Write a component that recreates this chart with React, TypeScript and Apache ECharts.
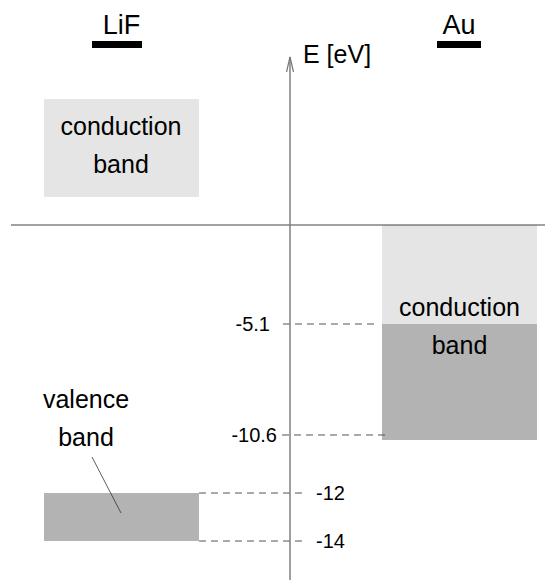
import React, { useEffect, useRef } from "react";
import * as echarts from "echarts";

// ---- data ----
const materials = ["LiF", "Au"];
const energyLabels = ["-5.1", "-10.6", "-12", "-14"];
const energyValues = [-5.1, -10.6, -12, -14];
// schematic (not to scale) heights of each energy level on the diagram; vacuum level = 0
const levelHeights = [-99, -210, -268, -316];
const bandTop = [126, levelHeights[2], 0, levelHeights[0]];
const bandBottom = [28, levelHeights[3], levelHeights[0], -215];
const bandMaterial = [0, 0, 1, 1];
const bandFilled = [false, true, false, true];
const bandLabels = ["conduction\nband", "valence\nband", "conduction\nband"];

// ---- layout / style ----
const FONT = "'Liberation Sans', Arial, Helvetica, sans-serif";
const LIGHT = "#e5e5e5";
const DARK = "#b3b3b3";
const X_MIN = -290, X_MAX = 255, Y_MIN = -355, Y_MAX = 225;
const columns = [[-246, -91], [92, 247]];
const levelLine = [
  { x0: -7, x1: 87, labelX: -20, align: "right" },
  { x0: -8, x1: 98, labelX: -13, align: "right" },
  { x0: -91, x1: 16, labelX: 26, align: "left" },
  { x0: -91, x1: 16, labelX: 26, align: "left" },
];
const titleX = [-168.5, 169];
const titleBar = [[-198, -148], [147, 191]];
const bandLabelPos = [[-169, 80], [-204, -193], [169.5, -101]];

export default function App() {
  const ref = useRef<HTMLDivElement>(null);
  useEffect(() => {
    if (!ref.current) return;
    const chart = echarts.init(ref.current, null, { renderer: "svg" });

    const bandsData = bandTop.map((t, i) => [
      columns[bandMaterial[i]][0],
      columns[bandMaterial[i]][1],
      t,
      bandBottom[i],
    ]);

    const option: any = {
      animation: false,
      grid: { left: 0, right: 0, top: 0, bottom: 0 },
      xAxis: { type: "value", min: X_MIN, max: X_MAX, show: false },
      yAxis: { type: "value", min: Y_MIN, max: Y_MAX, show: false },
      series: [
        {
          type: "custom",
          name: "bands",
          silent: true,
          clip: false,
          data: bandsData,
          renderItem: (params: any, api: any) => {
            const p0 = api.coord([api.value(0), api.value(2)]);
            const p1 = api.coord([api.value(1), api.value(3)]);
            return {
              type: "rect",
              shape: { x: p0[0], y: p0[1], width: p1[0] - p0[0], height: p1[1] - p0[1] },
              style: { fill: bandFilled[params.dataIndex] ? DARK : LIGHT },
            };
          },
        },
        {
          type: "custom",
          name: "levels",
          silent: true,
          clip: false,
          data: energyValues.map((e, i) => [levelLine[i].x0, levelLine[i].x1, levelHeights[i], e]),
          renderItem: (params: any, api: any) => {
            const i = params.dataIndex;
            const a = api.coord([api.value(0), api.value(2)]);
            const b = api.coord([api.value(1), api.value(2)]);
            const l = api.coord([levelLine[i].labelX, api.value(2)]);
            return {
              type: "group",
              children: [
                {
                  type: "line",
                  shape: { x1: a[0], y1: a[1], x2: b[0], y2: b[1] },
                  style: { stroke: "#555", lineWidth: 1, lineDash: [7, 5] },
                },
                {
                  type: "text",
                  x: l[0],
                  y: l[1],
                  style: {
                    text: energyLabels[i],
                    fontSize: 20,
                    fontFamily: FONT,
                    fill: "#000",
                    align: levelLine[i].align,
                    verticalAlign: "middle",
                  },
                },
              ],
            };
          },
        },
        {
          type: "custom",
          name: "axes",
          silent: true,
          clip: false,
          data: [[0]],
          renderItem: (params: any, api: any) => {
            const h0 = api.coord([-279, 0]);
            const h1 = api.coord([X_MAX, 0]);
            const tip = api.coord([0, 168]);
            const bot = api.coord([0, Y_MIN]);
            const al = api.coord([-3.5, 153]);
            const ar = api.coord([3.5, 153]);
            const lab = api.coord([13, 171]);
            const p0 = api.coord([-198, -232]);
            const p1 = api.coord([-169, -288]);
            return {
              type: "group",
              children: [
                {
                  type: "line",
                  shape: { x1: h0[0], y1: h0[1], x2: h1[0], y2: h1[1] },
                  style: { stroke: "#444", lineWidth: 1.2 },
                },
                {
                  type: "line",
                  shape: { x1: tip[0], y1: tip[1], x2: bot[0], y2: bot[1] },
                  style: { stroke: "#777", lineWidth: 1.4 },
                },
                {
                  type: "polyline",
                  shape: { points: [al, tip, ar] },
                  style: { stroke: "#777", lineWidth: 1.2, fill: null },
                },
                {
                  type: "text",
                  x: lab[0],
                  y: lab[1],
                  style: {
                    text: "E [eV]",
                    fontSize: 25,
                    fontFamily: FONT,
                    fill: "#000",
                    align: "left",
                    verticalAlign: "middle",
                  },
                },
                {
                  type: "line",
                  shape: { x1: p0[0], y1: p0[1], x2: p1[0], y2: p1[1] },
                  style: { stroke: "#333", lineWidth: 0.8 },
                },
              ],
            };
          },
        },
        {
          type: "custom",
          name: "titles",
          silent: true,
          clip: false,
          data: materials.map((m, i) => [titleX[i]]),
          renderItem: (params: any, api: any) => {
            const i = params.dataIndex;
            const t = api.coord([api.value(0), 200]);
            const b0 = api.coord([titleBar[i][0], 184]);
            const b1 = api.coord([titleBar[i][1], 177]);
            return {
              type: "group",
              children: [
                {
                  type: "text",
                  x: t[0],
                  y: t[1],
                  style: {
                    text: materials[i],
                    fontSize: 27,
                    fontFamily: FONT,
                    fill: "#000",
                    align: "center",
                    verticalAlign: "middle",
                  },
                },
                {
                  type: "rect",
                  shape: { x: b0[0], y: b0[1], width: b1[0] - b0[0], height: b1[1] - b0[1] },
                  style: { fill: "#000" },
                },
              ],
            };
          },
        },
        {
          type: "custom",
          name: "bandLabels",
          silent: true,
          clip: false,
          data: bandLabelPos,
          renderItem: (params: any, api: any) => {
            const p = api.coord([api.value(0), api.value(1)]);
            return {
              type: "text",
              x: p[0],
              y: p[1],
              style: {
                text: bandLabels[params.dataIndex],
                fontSize: 25,
                lineHeight: 38,
                fontFamily: FONT,
                fill: "#000",
                align: "center",
                verticalAlign: "middle",
              },
            };
          },
        },
      ],
    };
    chart.setOption(option);
    return () => chart.dispose();
  }, []);
  return (
    <div
      ref={ref}
      style={{ position: "absolute", left: 0, top: 0, width: 545, height: 580 }}
    />
  );
}
